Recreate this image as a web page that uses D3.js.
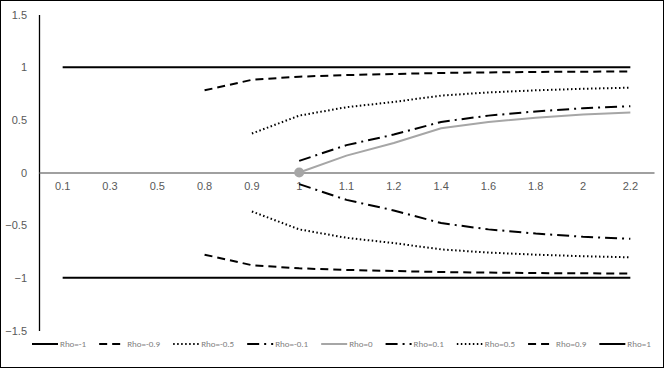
<!DOCTYPE html>
<html>
<head>
<meta charset="utf-8">
<script src="https://cdn.jsdelivr.net/npm/d3@7"></script>
<style>
  body { margin: 0; background: #fff; }
  svg { display: block; font-family: Calibri, Carlito, "Liberation Sans", "DejaVu Sans", sans-serif; }
</style>
</head>
<body>
<svg id="chart" width="664" height="368"></svg>
<script>
// categories along the x axis
const categories = ['0.1', '0.3', '0.5', '0.8', '0.9', '1', '1.1', '1.2', '1.4', '1.6', '1.8', '2', '2.2'];
const yTicks = [-1.5, -1, -0.5, 0, 0.5, 1, 1.5];

// series values (null = no value at that category)
const rhoM1  = [-1, -1, -1, -1, -1, -1, -1, -1, -1, -1, -1, -1, -1];
const rhoM09 = [null, null, null, -0.78, -0.88, -0.91, -0.925, -0.935, -0.945, -0.95, -0.955, -0.957, -0.96];
const rhoM05 = [null, null, null, null, -0.37, -0.54, -0.62, -0.67, -0.73, -0.76, -0.78, -0.795, -0.805];
const rhoM01 = [null, null, null, null, null, -0.11, -0.26, -0.36, -0.48, -0.54, -0.58, -0.61, -0.63];
const rho0   = [null, null, null, null, null, 0, 0.16, 0.28, 0.42, 0.48, 0.52, 0.55, 0.57];
const rho01  = [null, null, null, null, null, 0.11, 0.26, 0.36, 0.48, 0.54, 0.58, 0.61, 0.63];
const rho05  = [null, null, null, null, 0.37, 0.54, 0.62, 0.67, 0.73, 0.76, 0.78, 0.795, 0.805];
const rho09  = [null, null, null, 0.78, 0.88, 0.91, 0.925, 0.935, 0.945, 0.95, 0.955, 0.957, 0.96];
const rho1   = [1, 1, 1, 1, 1, 1, 1, 1, 1, 1, 1, 1, 1];

const seriesNames = ['Rho=-1', 'Rho=-0.9', 'Rho=-0.5', 'Rho=-0.1', 'Rho=0', 'Rho=0.1', 'Rho=0.5', 'Rho=0.9', 'Rho=1'];
const seriesValues = [rhoM1, rhoM09, rhoM05, rhoM01, rho0, rho01, rho05, rho09, rho1];

// line styles per series
const styles = [
  { color: '#000', width: 2, dash: null },
  { color: '#000', width: 2, dash: '8,5' },
  { color: '#000', width: 2, dash: '1.5,2.5' },
  { color: '#000', width: 2, dash: '12,5,2,5' },
  { color: '#a6a6a6', width: 2, dash: null },
  { color: '#000', width: 2, dash: '12,5,2,5' },
  { color: '#000', width: 2, dash: '1.5,2.5' },
  { color: '#000', width: 2, dash: '8,5' },
  { color: '#000', width: 2, dash: null },
];

const width = 664, height = 368;
const margin = { top: 14.5, right: 10, bottom: 37.5, left: 39 };

const svg = d3.select('#chart');

// outer border
svg.append('rect')
  .attr('x', 0.5).attr('y', 0.5)
  .attr('width', width - 1).attr('height', height - 1)
  .attr('fill', '#fff').attr('stroke', '#000');

const x = d3.scaleBand()
  .domain(categories)
  .range([margin.left, width - margin.right]);

const y = d3.scaleLinear()
  .domain([-1.5, 1.5])
  .range([height - margin.bottom, margin.top]);

// y axis
const yAxis = svg.append('g')
  .attr('transform', `translate(${margin.left},0)`)
  .call(d3.axisLeft(y).tickValues(yTicks).tickSize(0).tickPadding(12).tickFormat(d3.format('')));
yAxis.select('.domain').attr('stroke', '#000').attr('stroke-width', 1.3);
yAxis.selectAll('text').attr('fill', '#595959').style('font-size', '11px');

// x axis at y=0
const xAxis = svg.append('g')
  .attr('transform', `translate(0,${y(0)})`)
  .call(d3.axisBottom(x).tickSize(0).tickPadding(10));
xAxis.select('.domain').attr('stroke', '#808080').attr('stroke-width', 1.3);
xAxis.selectAll('text').attr('fill', '#595959').style('font-size', '11px');

const line = d3.line()
  .defined(d => d.v !== null)
  .x(d => x(d.c) + x.bandwidth() / 2)
  .y(d => y(d.v));

seriesValues.forEach((vals, i) => {
  const pts = vals.map((v, j) => ({ c: categories[j], v }));
  const s = styles[i];
  svg.append('path')
    .datum(pts)
    .attr('fill', 'none')
    .attr('stroke', s.color)
    .attr('stroke-width', s.width)
    .attr('stroke-dasharray', s.dash)
    .attr('d', line);
});

// marker on first point of Rho=0
const firstIdx = rho0.findIndex(v => v !== null);
svg.append('circle')
  .attr('cx', x(categories[firstIdx]) + x.bandwidth() / 2)
  .attr('cy', y(rho0[firstIdx]))
  .attr('r', 5)
  .attr('fill', '#a6a6a6');

// legend
const legend = svg.append('g').attr('transform', 'translate(32,344)');
let lx = 0;
seriesNames.forEach((name, i) => {
  const s = styles[i];
  const g = legend.append('g').attr('transform', `translate(${lx},0)`);
  g.append('line')
    .attr('x1', 0).attr('x2', 26)
    .attr('y1', 0).attr('y2', 0)
    .attr('stroke', s.color)
    .attr('stroke-width', s.width)
    .attr('stroke-dasharray', s.dash);
  const t = g.append('text')
    .attr('x', 28).attr('y', 3)
    .attr('fill', '#808080')
    .style('font-size', '9px')
    .text(name);
  lx += 28 + t.node().getComputedTextLength() + 13;
});
</script>
</body>
</html>
